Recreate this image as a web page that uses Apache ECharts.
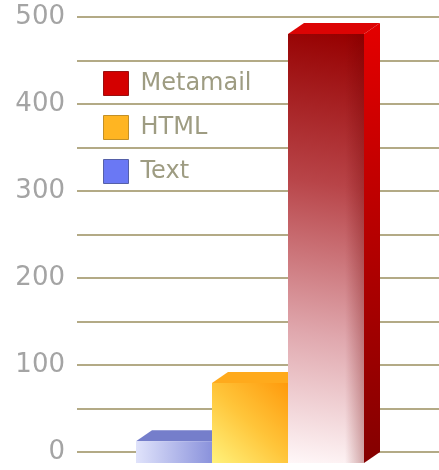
<!DOCTYPE html>
<html>
<head>
<meta charset="utf-8">
<script src="https://cdn.jsdelivr.net/npm/echarts@6/dist/echarts.min.js"></script>
<style>
  html, body { margin: 0; padding: 0; background: #fff; }
  #chart { width: 439px; height: 470px; }
</style>
</head>
<body>
<div id="chart"></div>
<script>
// data
const categories = ["Text", "HTML", "Metamail"];
const values = [25, 92, 493];
const legendOrder = ["Metamail", "HTML", "Text"];
const yTicks = [0, 100, 200, 300, 400, 500];

// 3d look: the front face sits left and below the back plane
const DX = 16;
const DY = 11;

const G = echarts.graphic;
const looks = {
  Text: {
    key: "#6a78f4",
    border: "#5560a8",
    front: new G.LinearGradient(0, 0, 1, 0, [
      { offset: 0, color: "#e0e3fb" },
      { offset: 1, color: "#8a92dc" }
    ]),
    top: "#757ecb",
    side: "#5c64b0"
  },
  HTML: {
    key: "#ffb522",
    border: "#c29028",
    front: new G.LinearGradient(0, 1, 1, 0, [
      { offset: 0, color: "#fff27c" },
      { offset: 0.5, color: "#ffc53a" },
      { offset: 1, color: "#ff9a0c" }
    ]),
    top: "#ffaa1c",
    side: "#f08a00"
  },
  Metamail: {
    key: "#d40000",
    border: "#9a1010",
    front: new G.LinearGradient(0, 1, 0.9, 0, [
      { offset: 0, color: "#fff7f8" },
      { offset: 0.3, color: "#e0a8ae" },
      { offset: 0.65, color: "#b84448" },
      { offset: 1, color: "#960000" }
    ]),
    shade: true,
    top: "#dc0404",
    side: new G.LinearGradient(0, 0, 0, 1, [
      { offset: 0, color: "#e40000" },
      { offset: 1, color: "#840000" }
    ])
  }
};

// darker strip along the right edge of the front face
const edgeShade = new G.LinearGradient(0, 0, 1, 0, [
  { offset: 0, color: "rgba(110,0,0,0)" },
  { offset: 0.75, color: "rgba(110,0,0,0)" },
  { offset: 1, color: "rgba(110,0,0,0.3)" }
]);

function boxRenderer(look) {
  return function (params, api) {
    const top = api.coord([api.value(0), api.value(1)]);
    const base = api.coord([api.value(0), 0]);
    const w = api.size([1, 0])[0];
    const bx0 = top[0] - w / 2, bx1 = top[0] + w / 2;
    const fx0 = bx0 - DX, fx1 = bx1 - DX;
    const ft = top[1] + DY, fb = base[1] + DY;
    const front = { x: fx0, y: ft, width: fx1 - fx0, height: fb - ft };
    const kids = [
      {
        type: "polygon",
        shape: { points: [[fx1, ft], [bx1, top[1]], [bx1, base[1]], [fx1, fb]] },
        style: { fill: look.side }
      },
      {
        type: "polygon",
        shape: { points: [[fx0, ft], [bx0, top[1]], [bx1, top[1]], [fx1, ft]] },
        style: { fill: look.top }
      },
      { type: "rect", shape: front, style: { fill: look.front } }
    ];
    if (look.shade) kids.push({ type: "rect", shape: front, style: { fill: edgeShade } });
    return { type: "group", children: kids };
  };
}

const gridLine = { show: true, lineStyle: { color: "#b3aa86", width: 2 } };

const option = {
  backgroundColor: "#fff",
  animation: false,
  legend: {
    orient: "vertical",
    left: 98,
    top: 66,
    itemWidth: 25,
    itemHeight: 24,
    itemGap: 19,
    icon: "rect",
    data: legendOrder.map(n => ({
      name: n,
      itemStyle: { color: looks[n].key, borderColor: looks[n].border, borderWidth: 1 }
    })),
    textStyle: {
      fontFamily: "DejaVu Sans",
      fontSize: 24,
      color: "#9e9c82",
      padding: [0, 0, 0, 7]
    }
  },
  grid: [
    { left: 77, right: 0, top: 17, bottom: 18 },
    { left: 152, right: 59, top: 17, bottom: 18 }
  ],
  xAxis: [
    { gridIndex: 0, type: "value", min: 0, max: 1, show: false },
    { gridIndex: 1, type: "category", data: categories, show: false }
  ],
  yAxis: [
    {
      gridIndex: 0,
      type: "value",
      min: yTicks[0],
      max: yTicks[yTicks.length - 1],
      interval: 100,
      axisLine: { show: false },
      axisTick: { show: false },
      minorTick: { show: false, splitNumber: 2 },
      splitLine: gridLine,
      minorSplitLine: gridLine,
      axisLabel: {
        margin: 12,
        fontFamily: "DejaVu Sans",
        fontSize: 26,
        color: "#a4a4a4"
      }
    },
    { gridIndex: 1, type: "value", min: 0, max: 500, show: false }
  ],
  series: categories.map((name, i) => ({
    name: name,
    type: "custom",
    xAxisIndex: 1,
    yAxisIndex: 1,
    clip: false,
    itemStyle: { color: looks[name].key },
    renderItem: boxRenderer(looks[name]),
    data: [[i, values[i]]]
  }))
};

echarts.init(document.getElementById("chart")).setOption(option);
</script>
</body>
</html>
